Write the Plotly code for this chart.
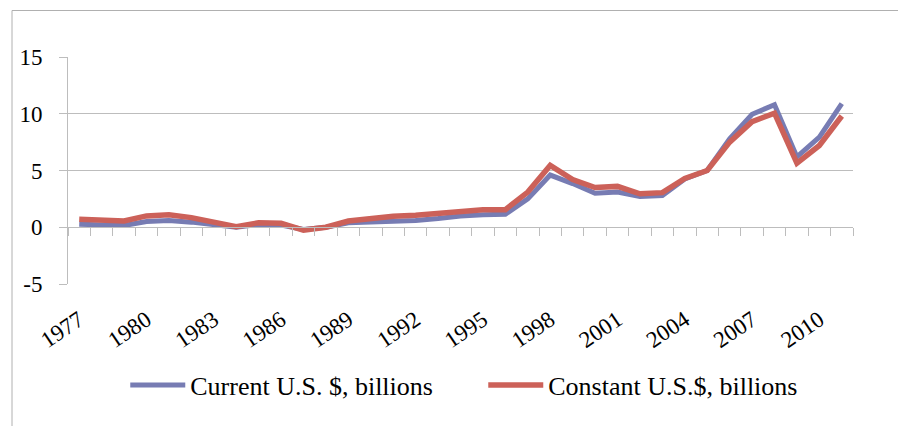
import plotly.graph_objects as go

years = list(range(1977, 2012))
current_usd = [0.26, 0.25, 0.15, 0.5, 0.6, 0.45, 0.2, 0.0, 0.25, 0.2, -0.2, 0.0,
               0.4, 0.45, 0.53, 0.6, 0.77, 1.0, 1.1, 1.15, 2.5, 4.6, 3.85, 3.0,
               3.1, 2.7, 2.8, 4.25, 5.0, 7.8, 9.95, 10.8, 6.2, 7.95, 10.9]
constant_usd = [0.7, 0.65, 0.55, 1.0, 1.1, 0.85, 0.45, 0.05, 0.4, 0.35, -0.25, 0.0,
                0.55, 0.8, 0.97, 1.05, 1.2, 1.4, 1.55, 1.55, 3.1, 5.45, 4.2, 3.5,
                3.6, 2.95, 3.05, 4.3, 5.0, 7.5, 9.3, 10.05, 5.65, 7.2, 9.8]
tick_years = list(range(1977, 2011, 3))
tick_labels = [str(y) for y in tick_years]
y_ticks = [-5, 0, 5, 10, 15]
y_tick_labels = ["-5", "0", "5", "10", "15"]
series_names = ["Current U.S. $, billions", "Constant U.S.$, billions"]

font_family = "Liberation Serif, Times New Roman, serif"
grey = "#BDBDBD"

fig = go.Figure()
fig.add_trace(go.Scatter(x=years, y=current_usd, mode="lines", name=series_names[0],
                         line=dict(color="#777CB3", width=5)))
fig.add_trace(go.Scatter(x=years, y=constant_usd, mode="lines", name=series_names[1],
                         line=dict(color="#CC6159", width=5.5)))
# dummy trace to hold the label axis
fig.add_trace(go.Scatter(x=[years[0]], y=[None], xaxis="x2", yaxis="y", showlegend=False,
                         hoverinfo="skip", mode="lines"))

x_range = [years[0] - 0.5, years[-1] + 0.5]
boundaries = [y - 0.5 for y in years] + [years[-1] + 0.5]

fig.update_layout(
    width=898, height=426,
    margin=dict(l=68, r=45, t=57, b=142),
    paper_bgcolor="white", plot_bgcolor="white",
    font=dict(family=font_family, size=23, color="black"),
    xaxis=dict(range=x_range, anchor="free", position=0.25, showline=True, linecolor=grey,
               linewidth=1, ticks="outside", tickvals=boundaries, ticklen=8, tickcolor=grey,
               showticklabels=False, showgrid=False, zeroline=False),
    xaxis2=dict(range=x_range, overlaying="x", anchor="y", side="bottom",
                tickvals=tick_years, ticktext=tick_labels, tickangle=-34,
                showgrid=False, showline=False, ticks="", zeroline=False,
                ticklabelstandoff=17, tickfont=dict(family=font_family, size=23, color="black")),
    yaxis=dict(range=[-5, 15], tickvals=y_ticks, ticktext=y_tick_labels, showgrid=True,
               gridcolor=grey, gridwidth=1, showline=True, linecolor=grey, linewidth=1,
               ticks="outside", ticklen=8, tickcolor=grey, zeroline=False, ticklabelstandoff=12,
               tickfont=dict(family=font_family, size=23, color="black")),
    legend=dict(orientation="h", x=0.529, xanchor="center", y=-0.445, yanchor="middle",
                font=dict(family=font_family, size=26, color="black"), bgcolor="rgba(0,0,0,0)",
                itemwidth=55, entrywidth=288, tracegroupgap=0),
    showlegend=True,
    shapes=[dict(type="rect", xref="paper", yref="paper",
                 x0=(12 - 68) / 785, x1=(905 - 68) / 785,
                 y0=(284 - 440) / 227, y1=(284 - 10.5) / 227,
                 line=dict(color="#B0B0B0", width=1), fillcolor="rgba(0,0,0,0)", layer="below")],
)

fig.write_html("out.html", config={"displayModeBar": False},
               post_script="document.body.style.margin='0';document.body.style.overflow='hidden';")
